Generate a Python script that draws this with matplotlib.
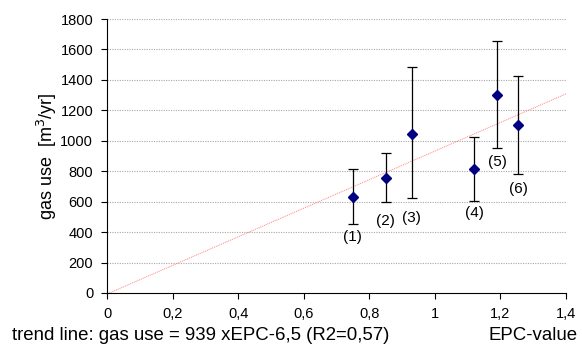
import matplotlib.pyplot as plt

plt.rcParams['font.family'] = ['Liberation Sans', 'DejaVu Sans']

epc = [0.75, 0.85, 0.93, 1.12, 1.19, 1.255]
gas = [632, 757, 1047, 815, 1301, 1104]
err_low = [455, 596, 622, 602, 951, 782]
err_high = [816, 920, 1483, 1023, 1657, 1428]
labels = ['(1)', '(2)', '(3)', '(4)', '(5)', '(6)']
label_y = [370, 475, 492, 525, 860, 683]

slope, intercept = 939, -6.5
trend_x = [0, 1.4]

fig = plt.figure(figsize=(5.82, 3.49), dpi=100)
ax = fig.add_axes([0.184, 0.1605, 0.7885, 0.785])

for g in range(200, 1801, 200):
    ax.axhline(g, color='#a8a8a8', lw=0.8, ls=(0, (1, 1.2)), zorder=0)

ax.plot(trend_x, [slope * x + intercept for x in trend_x], color='#ff8080',
        lw=0.7, ls=(0, (1, 1)), zorder=1)

yerr = [[g - lo for g, lo in zip(gas, err_low)], [hi - g for g, hi in zip(gas, err_high)]]
ax.errorbar(epc, gas, yerr=yerr, fmt='D', color='#000080', ms=5.5,
            ecolor='black', elinewidth=0.9, capsize=3.3, capthick=0.9, zorder=3)

for x, y, t in zip(epc, label_y, labels):
    ax.text(x, y, t, ha='center', va='center', fontsize=11)

ax.set_xlim(0, 1.4)
ax.set_ylim(0, 1800)
ax.set_xticks([0, 0.2, 0.4, 0.6, 0.8, 1.0, 1.2, 1.4])
ax.set_xticklabels(['0', '0,2', '0,4', '0,6', '0,8', '1', '1,2', '1,4'])
ax.set_yticks(range(0, 1801, 200))
ax.tick_params(labelsize=10.5, length=4, width=0.8, pad=6)
ax.spines['top'].set_visible(False)
ax.spines['right'].set_visible(False)
ax.set_ylabel('gas use  [m$^3$/yr]', fontsize=13, labelpad=1)

fig.text(0.02, 0.04, 'trend line: gas use = 939 xEPC-6,5 (R2=0,57)', fontsize=13.4, va='center')
fig.text(0.993, 0.04, 'EPC-value', fontsize=13.4, va='center', ha='right')

fig.savefig('out.png', dpi=100)
